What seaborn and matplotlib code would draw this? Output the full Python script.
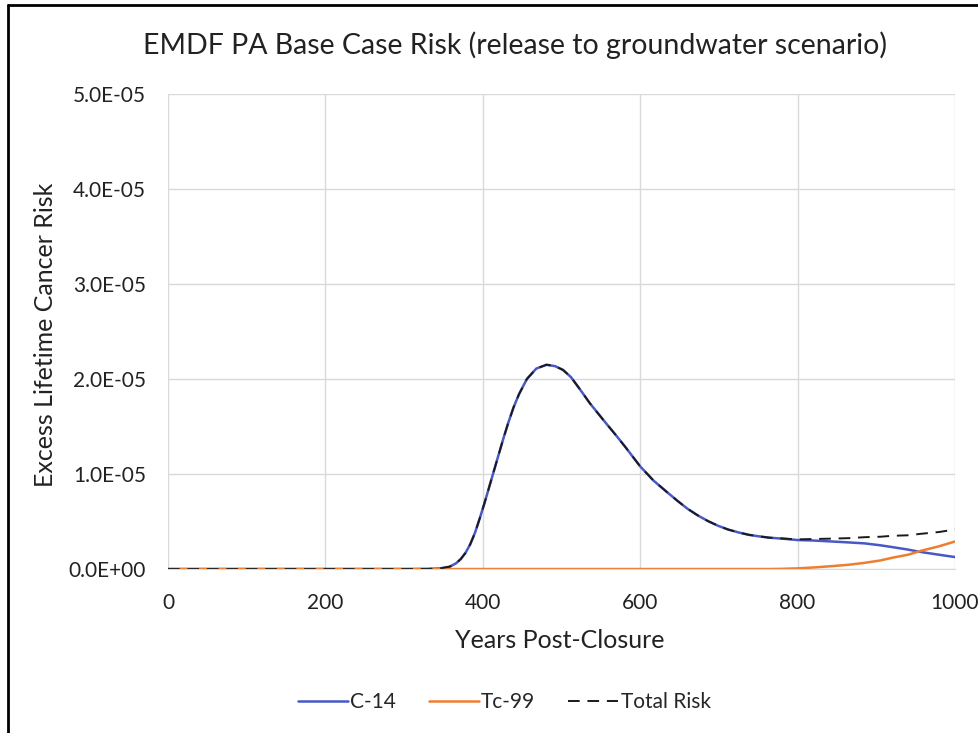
import seaborn as sns
import matplotlib.pyplot as plt
import pandas as pd
from matplotlib.lines import Line2D
from matplotlib.ticker import FuncFormatter

years = [0, 100, 200, 300, 330, 346, 358, 366, 372, 378, 384, 390, 396, 402, 408,
         414, 420, 426, 432, 439, 446, 456, 468, 481, 492, 502, 512, 524, 536,
         556, 570, 582, 600, 617, 634, 647, 660, 673, 686, 699, 712, 725, 738,
         750, 764, 780, 800, 820, 843, 865, 885, 905, 921, 940, 956, 980, 1000]
c14 = [0, 0, 0, 0, 0.001, 0.007, 0.025, 0.06, 0.105, 0.17, 0.26, 0.38, 0.53,
       0.69, 0.86, 1.03, 1.2, 1.37, 1.53, 1.7, 1.84, 2.0, 2.11, 2.15, 2.135,
       2.095, 2.02, 1.885, 1.745, 1.54, 1.40, 1.275, 1.08, 0.93, 0.81, 0.72,
       0.635, 0.565, 0.505, 0.455, 0.415, 0.385, 0.36, 0.345, 0.33, 0.32, 0.305,
       0.30, 0.29, 0.28, 0.27, 0.25, 0.23, 0.205, 0.18, 0.15, 0.126]
tc99 = [0] * 45 + [0.002, 0.007, 0.016, 0.03, 0.045, 0.065, 0.09, 0.12, 0.15,
                   0.19, 0.24, 0.29]
c14 = [v * 1e-5 for v in c14]
tc99 = [v * 1e-5 for v in tc99]
total = [a + b for a, b in zip(c14, tc99)]

df = pd.DataFrame({"year": years, "C-14": c14, "Tc-99": tc99, "Total Risk": total})

sns.set_style("white")
plt.rcParams["font.family"] = ["Lato", "DejaVu Sans"]

fig = plt.figure(figsize=(9.79, 7.33), dpi=100)
ax = fig.add_axes([0.1716, 0.2237, 0.8039, 0.6481])

sns.lineplot(data=df, x="year", y="C-14", ax=ax, color="#4858C4", lw=1.8, label="C-14")
sns.lineplot(data=df, x="year", y="Tc-99", ax=ax, color="#ED7D31", lw=1.8, label="Tc-99")
sns.lineplot(data=df, x="year", y="Total Risk", ax=ax, color="#1a1a1a", lw=1.4,
             linestyle=(0, (6, 4)), label="Total Risk")

ax.set_xlim(0, 1000)
ax.set_ylim(0, 5e-5)
ax.set_xticks(range(0, 1001, 200))
ax.set_yticks([i * 1e-5 for i in range(6)])
ax.yaxis.set_major_formatter(FuncFormatter(
    lambda v, _: "0.0E+00" if v == 0 else f"{v / 1e-5:.1f}E-05"))
ax.grid(True, color="#d9d9d9", lw=1)
for s in ["top", "right", "left"]:
    ax.spines[s].set_visible(False)
ax.spines["bottom"].set_color("#d9d9d9")
ax.tick_params(length=0, labelsize=15, colors="#222222")
ax.tick_params(axis="y", pad=16)
ax.tick_params(axis="x", pad=17)

ax.set_xlabel("Years Post-Closure", fontsize=18, color="#222222", va="center")
ax.set_ylabel("Excess Lifetime Cancer Risk", fontsize=18, color="#222222", va="center")
ax.xaxis.set_label_coords(0.498, -0.1495)
ax.yaxis.set_label_coords(-0.156, 0.493)
fig.text(0.526, 0.9386, "EMDF PA Base Case Risk (release to groundwater scenario)",
         ha="center", va="center", fontsize=20.5, color="#222222")

ax.legend(loc="center", bbox_to_anchor=(0.427, -0.28), ncol=3, frameon=False,
          fontsize=15, handlelength=2.4, handletextpad=0.1, columnspacing=1.6)

fig.add_artist(Line2D([0.0082, 0.0082], [0, 0.9932], transform=fig.transFigure,
                      color="black", lw=2))
fig.add_artist(Line2D([0.0082, 1], [0.9932, 0.9932], transform=fig.transFigure,
                      color="black", lw=2))

fig.savefig("out.png", dpi=100)
